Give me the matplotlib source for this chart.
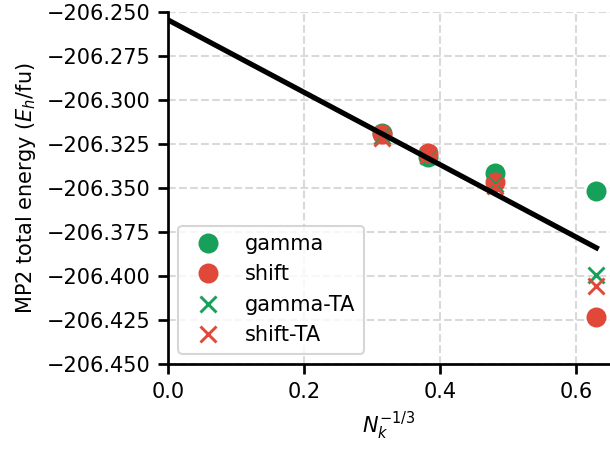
import numpy as np
import matplotlib
matplotlib.use('Agg')
import matplotlib.pyplot as plt

# k-mesh sizes expressed as N_k^(-1/3)
nk_inv = [0.315, 0.382, 0.481, 0.630]

# MP2 total energies (Eh per formula unit)
e_gamma = [-206.3185, -206.3322, -206.3415, -206.3517]
e_shift = [-206.3192, -206.3302, -206.3468, -206.4233]
e_gamma_ta = [-206.3205, -206.3318, -206.3480, -206.3995]
e_shift_ta = [-206.3215, -206.3312, -206.3490, -206.4055]

# extrapolation line
fit_x = [0.0, 0.630]
fit_y = [-206.2545, -206.3840]

green = '#17a05a'
red = '#e0483a'

fig = plt.figure(figsize=(610 / 150, 449 / 150), dpi=150)
ax = fig.add_axes([168 / 610, 1 - 364 / 449, 442 / 610, 352 / 449])

ax.plot(nk_inv, e_gamma, 'o', color=green, markersize=8.6, label='gamma', zorder=3)
ax.plot(nk_inv, e_shift, 'o', color=red, markersize=8.6, label='shift', zorder=3)
ax.plot(nk_inv, e_gamma_ta, 'x', color=green, markersize=7.5, markeredgewidth=1.4,
        label='gamma-TA', zorder=3)
ax.plot(nk_inv, e_shift_ta, 'x', color=red, markersize=7.5, markeredgewidth=1.4,
        label='shift-TA', zorder=3)
ax.plot(fit_x, fit_y, '-', color='k', linewidth=2.5, zorder=4)

ax.set_xlim(0, 0.65)
ax.set_ylim(-206.45, -206.25)
ax.set_xticks([0.0, 0.2, 0.4, 0.6])
ax.set_yticks(np.arange(-206.45, -206.2499, 0.025))
ax.ticklabel_format(axis='y', useOffset=False)
ax.yaxis.set_major_formatter(matplotlib.ticker.FormatStrFormatter('%.3f'))
ax.yaxis.set_major_formatter(matplotlib.ticker.FuncFormatter(
    lambda v, p: ('%.3f' % v).replace('-', '\u2212')))

ax.grid(True, color='#d9d9d9', linestyle='--', linewidth=1.0)
ax.set_axisbelow(True)
for side in ['top', 'right']:
    ax.spines[side].set_visible(False)
for side in ['left', 'bottom']:
    ax.spines[side].set_linewidth(1.3)
ax.tick_params(width=1.3, length=5)

ax.set_xlabel('$N_k^{-1/3}$')
ax.set_ylabel('MP2 total energy ($E_h$/fu)')
ax.legend(loc='lower left', framealpha=0.8, edgecolor='#cccccc')

fig.savefig('out.png', dpi=150)
